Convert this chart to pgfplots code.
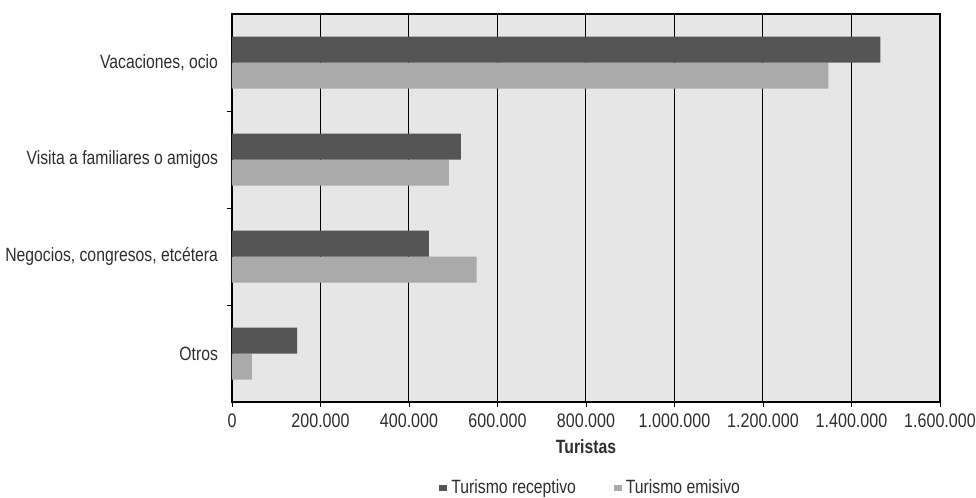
\documentclass[border=0pt]{standalone}
\usepackage{fontspec}
\setmainfont{Liberation Sans}[FakeStretch=0.82]
\usepackage{pgfplots}
\pgfplotsset{compat=1.18}
\definecolor{darkbar}{RGB}{85,85,85}
\definecolor{lightbar}{RGB}{170,170,170}
\definecolor{bgfill}{RGB}{230,230,230}
\definecolor{txt}{RGB}{45,45,45}
\begin{document}
\begin{tikzpicture}
\useasboundingbox (-116pt,-48pt) rectangle (372pt,201pt);
\begin{axis}[
  at={(0,0)}, anchor=south west,
  scale only axis, width=354pt, height=194pt,
  xbar=0pt, bar width=13pt,
  xmin=0, xmax=1600000,
  ymin=-0.5, ymax=3.5, y dir=reverse,
  xtick={0,200000,400000,600000,800000,1000000,1200000,1400000,1600000},
  scaled x ticks=false,
  /pgf/number format/.cd, fixed, 1000 sep={.}, assume math mode=true,
  /pgfplots/.cd,
  ytick={0,1,2,3},
  yticklabels={{Vacaciones, ocio},{Visita a familiares o amigos},{Negocios, congresos, etcétera},{Otros}},
  minor ytick={0.5,1.5,2.5},
  major tick length=2.5pt,
  minor tick length=2.5pt,
  major y tick style={draw=none},
  tick style={black},
  tick align=outside,
  ytick pos=left, xtick pos=bottom,
  xmajorgrids, major grid style={black, line width=0.5pt},
  axis line style={black, line width=0.6pt},
  axis background/.style={fill=bgfill},
  yticklabel style={font=\fontsize{9.6}{11}\selectfont, text=txt, xshift=-1pt},
  xticklabel style={font=\fontsize{9.8}{11}\selectfont, text=txt, yshift=0pt},
  xlabel={\textbf{Turistas}},
  xlabel style={font=\fontsize{9.6}{11}\selectfont, text=txt, yshift=1pt},
  reverse legend,
  legend style={at={(0.508,-0.222)}, anchor=center, draw=none, fill=none,
    legend columns=2, font=\fontsize{9.6}{11}\selectfont, text=txt,
    /tikz/every even column/.append style={column sep=17pt}},
  legend image code/.code={\fill[#1] (0pt,-1.5pt) rectangle (4pt,1.5pt);},
]
\addplot[fill=lightbar, draw=none] coordinates {(1348000,0) (490000,1) (553000,2) (45000,3)};
\addlegendentry{Turismo emisivo}
\addplot[fill=darkbar, draw=none] coordinates {(1465000,0) (517000,1) (445000,2) (147000,3)};
\addlegendentry{Turismo receptivo}
\end{axis}
\end{tikzpicture}
\end{document}
